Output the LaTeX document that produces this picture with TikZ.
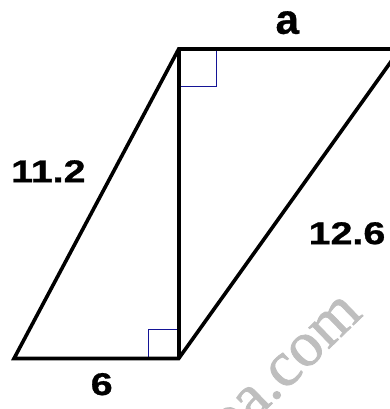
\documentclass[tikz,border=0pt]{standalone}
\usepackage{fontspec}
\usetikzlibrary{calc}
\setmainfont{Liberation Sans}[BoldFeatures={FakeBold=0.8}]
\newfontfamily\wmfont{Liberation Serif}[FakeBold=1.2]
\definecolor{rtblue}{RGB}{20,20,150}
\definecolor{wmgray}{RGB}{190,190,190}
\begin{document}
\begin{tikzpicture}[x=1pt,y=-1pt,
  side/.style={line width=3.6pt,black},
  rtmark/.style={line width=1pt,rtblue},
  num/.style={inner sep=0pt,font=\fontsize{31.5}{31.5}\selectfont\bfseries,xscale=1.25},
  lbl/.style={inner sep=0pt,font=\fontsize{42}{42}\selectfont\bfseries}]
\useasboundingbox (0,0) rectangle (390,409);
\clip (0,0) rectangle (390,409);
% watermark
\node[wmgray,font=\wmfont\fontsize{64}{64}\selectfont,rotate=44,anchor=base east,inner sep=0pt] (wm) at (364,315) {pa.com};
% vertices
\coordinate (BL) at (14,358.5);
\coordinate (BR) at (178.7,358.5);
\coordinate (TL) at (178.7,49);
\coordinate (TR) at (400,49);
% right-angle marks
\draw[rtmark] ($(TL)+(0,37.7)$) -| ($(TL)+(37.3,0)$);
\draw[rtmark] ($(BR)+(-30.7,0)$) |- ($(BR)+(0,-29.5)$);
% parallelogram and height
\draw[side] (BL) -- (BR) -- (TR) -- (TL) -- cycle;
\draw[side] (TL) -- (BR);
% labels
\node[lbl] (la) at (287.3,22.7) {a};
\node[num] (l112) at (48.3,171.2) {11.2};
\node[num] (l126) at (347,233.3) {12.6};
\node[num] (l6) at (101.7,384.2) {6};
\end{tikzpicture}
\end{document}
